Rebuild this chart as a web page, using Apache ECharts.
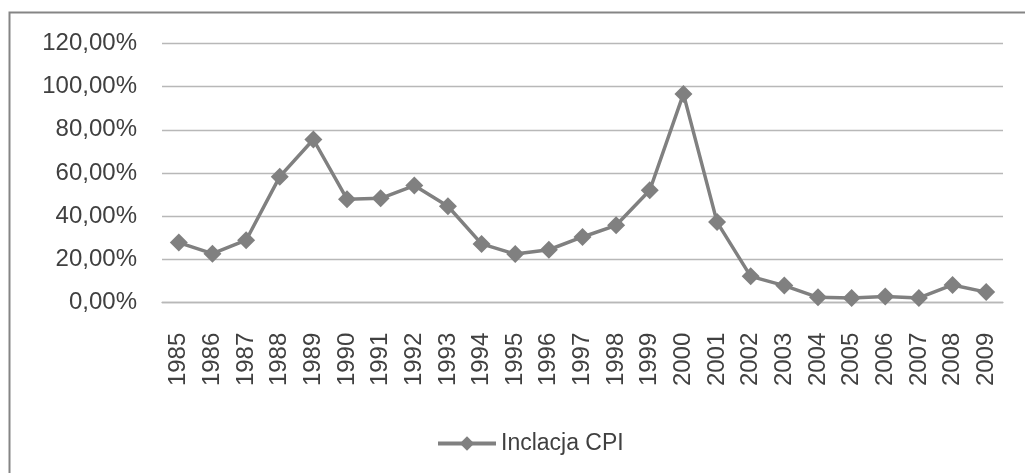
<!DOCTYPE html>
<html>
<head>
<meta charset="utf-8">
<script src="https://cdn.jsdelivr.net/npm/echarts@6/dist/echarts.min.js"></script>
<style>
html,body{margin:0;padding:0;background:#fff;}
#chart{width:1025px;height:473px;}
</style>
</head>
<body>
<div id="chart"></div>
<script>
const years = ['1985','1986','1987','1988','1989','1990','1991','1992','1993','1994','1995','1996','1997','1998','1999','2000','2001','2002','2003','2004','2005','2006','2007','2008','2009'];
const cpiInflation = [27.8, 22.7, 28.9, 58.3, 75.5, 47.9, 48.3, 54.2, 44.6, 27.2, 22.5, 24.5, 30.4, 35.8, 52.0, 96.6, 37.3, 12.2, 7.9, 2.5, 2.2, 2.9, 2.2, 8.2, 4.9];
const seriesName = 'Inclacja CPI';
const yTicks = {min: 0, max: 120, interval: 20};

const chart = echarts.init(document.getElementById('chart'));
const fontFamily = '"Liberation Sans", Arial, sans-serif';
chart.setOption({
  animation: false,
  backgroundColor: '#ffffff',
  graphic: [{
    type: 'rect',
    shape: {x: 9.5, y: 12.5, width: 1200, height: 700},
    style: {fill: 'none', stroke: '#858585', lineWidth: 2},
    silent: true
  }],
  grid: {left: 162, right: 22, top: 43.3, bottom: 170.3, containLabel: false},
  legend: {
    data: [seriesName],
    left: 431,
    top: 427,
    itemWidth: 58,
    itemHeight: 18,
    itemGap: 5,
    lineStyle: {width: 4},
    textStyle: {fontFamily: fontFamily, fontSize: 23, color: '#404040'}
  },
  xAxis: {
    type: 'category',
    data: years,
    boundaryGap: true,
    axisLine: {show: true, lineStyle: {color: '#b8b8b8', width: 1.3}},
    axisTick: {show: false},
    axisLabel: {rotate: 90, margin: 30, interval: 0, fontFamily: fontFamily, fontSize: 24, color: '#404040'}
  },
  yAxis: {
    type: 'value',
    min: yTicks.min,
    max: yTicks.max,
    interval: yTicks.interval,
    axisLine: {show: false},
    axisTick: {show: false},
    splitLine: {show: true, lineStyle: {color: '#b8b8b8', width: 1.3}},
    axisLabel: {
      margin: 25,
      fontFamily: fontFamily,
      fontSize: 24,
      color: '#404040',
      formatter: v => v.toFixed(2).replace('.', ',') + '%'
    }
  },
  series: [{
    name: seriesName,
    type: 'line',
    data: cpiInflation,
    symbol: 'diamond',
    symbolSize: 18,
    showAllSymbol: true,
    lineStyle: {color: '#808080', width: 3.5},
    itemStyle: {color: '#808080'}
  }]
});
</script>
</body>
</html>
